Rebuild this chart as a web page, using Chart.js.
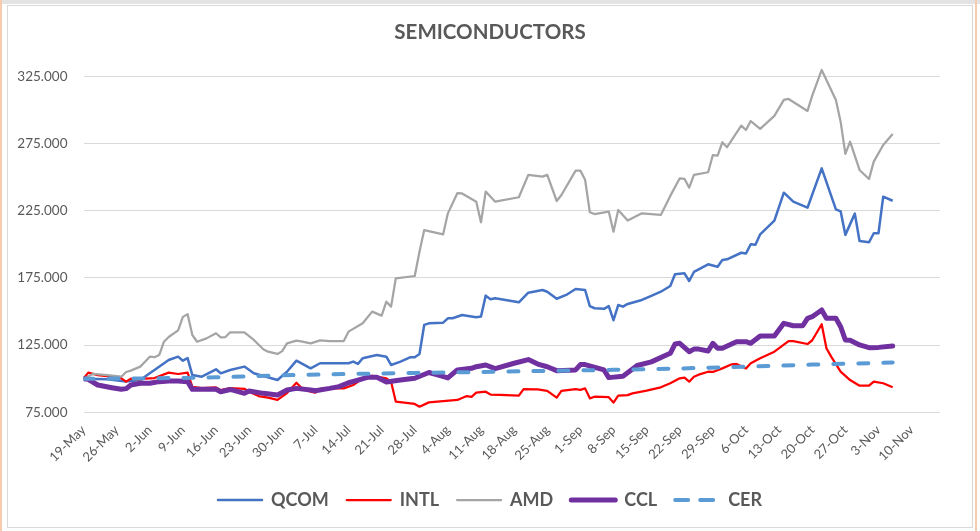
<!DOCTYPE html>
<html>
<head>
<meta charset="utf-8">
<title>Semiconductors</title>
<script src="https://cdn.jsdelivr.net/npm/chart.js@4.4.0/dist/chart.umd.min.js"></script>
<style>
  html, body { margin: 0; padding: 0; background: #fff; }
  #wrap { position: relative; width: 980px; height: 531px; overflow: hidden; }
  #frame { position: absolute; left: 7px; top: 5px; width: 964px; height: 521px; border: 1px solid #d9d9d9; }
  .edge { position: absolute; top: 0; width: 2px; height: 531px; background: #f8cbad; }
  #topbar { position: absolute; left: 0; top: 0; width: 980px; height: 4px; background: #e3e3e3; }
  #chart { position: absolute; left: 0; top: 0; }
</style>
</head>
<body>
<div id="wrap">
  <div id="topbar"></div>
  <div class="edge" style="left:0"></div>
  <div class="edge" style="left:975px"></div>
  <div id="frame"></div>
  <canvas id="chart" width="980" height="531"></canvas>
</div>
<script>
// Values are indexed to 100 on 19-May (2020)
const tickLabels = ['19-May', '26-May', '2-Jun', '9-Jun', '16-Jun', '23-Jun', '30-Jun', '7-Jul', '14-Jul',
    '21-Jul', '28-Jul', '4-Aug', '11-Aug', '18-Aug', '25-Aug', '1-Sep', '8-Sep', '15-Sep', '22-Sep',
    '29-Sep', '6-Oct', '13-Oct', '20-Oct', '27-Oct', '3-Nov', '10-Nov'];
const yTicks = [75, 125, 175, 225, 275, 325];

const qcomDates = ['19-May', '24-May', '28-May', '31-May', '2-Jun', '3-Jun', '6-Jun', '8-Jun', '9-Jun', '10-Jun',
    '11-Jun', '13-Jun', '16-Jun', '17-Jun', '19-Jun', '22-Jun', '24-Jun', '26-Jun', '29-Jun', '1-Jul', '3-Jul',
    '6-Jul', '8-Jul', '10-Jul', '14-Jul', '15-Jul', '16-Jul', '17-Jul', '20-Jul', '22-Jul', '23-Jul', '25-Jul',
    '27-Jul', '28-Jul', '29-Jul', '30-Jul', '31-Jul', '3-Aug', '4-Aug', '5-Aug', '7-Aug', '10-Aug', '11-Aug',
    '12-Aug', '13-Aug', '14-Aug', '19-Aug', '21-Aug', '24-Aug', '25-Aug', '27-Aug', '29-Aug', '31-Aug', '2-Sep',
    '3-Sep', '4-Sep', '6-Sep', '7-Sep', '8-Sep', '9-Sep', '10-Sep', '11-Sep', '14-Sep', '16-Sep', '18-Sep',
    '20-Sep', '21-Sep', '23-Sep', '24-Sep', '25-Sep', '28-Sep', '30-Sep', '1-Oct', '2-Oct', '5-Oct', '6-Oct',
    '7-Oct', '8-Oct', '9-Oct', '12-Oct', '14-Oct', '16-Oct', '19-Oct', '22-Oct', '25-Oct', '26-Oct', '27-Oct',
    '29-Oct', '30-Oct', '1-Nov', '2-Nov', '3-Nov', '4-Nov', '6-Nov'];
const qcomValues = [100, 99.5, 98, 99, 104, 106.5, 113.9, 116.4, 113.4, 115.3,
    102.7, 101.5, 107, 104, 106.5, 109, 104, 102, 99, 105.2, 113.4,
    107.7, 111.5, 111.5, 111.5, 112.7, 111, 115.2, 117.6, 116.4, 110.2, 112.7,
    115.9, 116, 118.4, 140, 141.2, 141.7, 144.9, 145, 147.4, 145.7, 146.2,
    161.8, 159.1, 159.8, 156.8, 164, 166, 164.7, 159.5, 162.3, 166.7, 166,
    154, 152.4, 152, 154, 143.5, 154.8, 153.6, 155.6, 158.6, 161.6, 164.7,
    169, 177.7, 178.4, 172.7, 179.4, 185.1, 183.3, 188.3, 188.8, 193.7, 193.1,
    200, 199.6, 207.4, 217.6, 238.4, 231.7, 227.2, 256.5, 226, 224.5, 207,
    222.8, 202.5, 201.5, 208.2, 208.2, 235.4, 232.4];

const intlDates = ['19-May', '20-May', '22-May', '25-May', '27-May', '28-May', '29-May', '31-May', '1-Jun', '3-Jun',
    '6-Jun', '8-Jun', '10-Jun', '11-Jun', '13-Jun', '16-Jun', '17-Jun', '19-Jun', '22-Jun', '23-Jun', '25-Jun',
    '27-Jun', '29-Jun', '1-Jul', '3-Jul', '4-Jul', '6-Jul', '7-Jul', '8-Jul', '10-Jul', '13-Jul', '15-Jul',
    '17-Jul', '19-Jul', '22-Jul', '23-Jul', '24-Jul', '28-Jul', '29-Jul', '31-Jul', '6-Aug', '8-Aug', '9-Aug',
    '10-Aug', '12-Aug', '13-Aug', '15-Aug', '19-Aug', '20-Aug', '23-Aug', '25-Aug', '27-Aug', '28-Aug', '31-Aug',
    '1-Sep', '2-Sep', '3-Sep', '4-Sep', '7-Sep', '8-Sep', '9-Sep', '11-Sep', '12-Sep', '15-Sep', '18-Sep',
    '20-Sep', '22-Sep', '23-Sep', '24-Sep', '25-Sep', '26-Sep', '28-Sep', '29-Sep', '1-Oct', '3-Oct', '4-Oct',
    '6-Oct', '7-Oct', '9-Oct', '12-Oct', '15-Oct', '16-Oct', '19-Oct', '20-Oct', '22-Oct', '23-Oct', '24-Oct',
    '26-Oct', '28-Oct', '30-Oct', '1-Nov', '2-Nov', '4-Nov', '6-Nov'];
const intlValues = [100, 104.5, 102.7, 101.5, 100.3, 97.8, 100, 99.3, 100, 100.5,
    104.5, 103.5, 104.5, 94, 93, 93.5, 91.5, 93, 92.5, 90.3, 87.1,
    85.9, 84.2, 89.3, 97, 93.5, 90.3, 89.6, 92.5, 93, 92.8, 95.3,
    100.3, 102.2, 100.3, 97.8, 82.9, 81.2, 79.2, 82.4, 84.2, 87.1, 86.5,
    89.6, 90.3, 88.2, 87.9, 87.4, 92.3, 92, 91, 85.9, 91, 92.3,
    91.7, 92.8, 85.4, 86.6, 86.2, 82.2, 87.4, 87.8, 89.1, 91.1, 93.6,
    96.6, 100.3, 100.8, 97.8, 101.5, 103, 105.2, 105, 107.7, 110.7, 111,
    107.5, 111.5, 115.2, 120.1, 128, 128, 125.8, 128.6, 140.5, 122.6, 116.4,
    105.2, 99, 94.8, 94.8, 97.8, 96.6, 93.6];

const amdDates = ['19-May', '21-May', '24-May', '27-May', '28-May', '29-May', '31-May', '1-Jun', '2-Jun', '3-Jun',
    '4-Jun', '5-Jun', '6-Jun', '8-Jun', '9-Jun', '10-Jun', '11-Jun', '12-Jun', '14-Jun', '16-Jun', '17-Jun',
    '18-Jun', '19-Jun', '22-Jun', '24-Jun', '26-Jun', '27-Jun', '29-Jun', '30-Jun', '1-Jul', '3-Jul', '4-Jul',
    '6-Jul', '8-Jul', '10-Jul', '13-Jul', '14-Jul', '17-Jul', '19-Jul', '21-Jul', '22-Jul', '23-Jul', '24-Jul',
    '28-Jul', '29-Jul', '30-Jul', '3-Aug', '4-Aug', '6-Aug', '7-Aug', '10-Aug', '11-Aug', '12-Aug', '14-Aug',
    '19-Aug', '21-Aug', '24-Aug', '25-Aug', '27-Aug', '28-Aug', '31-Aug', '1-Sep', '2-Sep', '3-Sep', '4-Sep',
    '7-Sep', '8-Sep', '9-Sep', '11-Sep', '14-Sep', '18-Sep', '20-Sep', '22-Sep', '23-Sep', '24-Sep', '25-Sep',
    '28-Sep', '29-Sep', '30-Sep', '1-Oct', '2-Oct', '5-Oct', '6-Oct', '7-Oct', '9-Oct', '12-Oct', '14-Oct',
    '15-Oct', '19-Oct', '20-Oct', '22-Oct', '25-Oct', '26-Oct', '27-Oct', '28-Oct', '30-Oct', '1-Nov', '2-Nov',
    '4-Nov', '6-Nov'];
const amdValues = [100, 103.5, 102.7, 101.5, 105, 106, 109, 112.6, 116.4, 116,
    117.6, 127.5, 131, 136, 146, 148, 132.5, 127.5, 130, 133.8, 130.8,
    131, 134.5, 134.5, 128.8, 121.9, 120.1, 118.4, 120.5, 126.3, 128.3, 127.7,
    126.3, 128.5, 128, 128, 135, 141.2, 149.9, 146.9, 157.3, 153.6, 174.7,
    176.4, 194.5, 210.6, 207.4, 223, 238, 237.8, 231.7, 216.4, 239.2, 231.7,
    235, 251.6, 250.3, 251.6, 232.2, 236.7, 254.8, 254.8, 248, 223.8, 222.5,
    224.3, 209.4, 225.5, 217.6, 223, 221.8, 236, 249.1, 248.7, 242.1, 251.6,
    253.6, 266.4, 266, 275.9, 272.2, 288.3, 285, 291.7, 285.8, 295.5, 307.4,
    308.1, 299.2, 310.6, 329.7, 307.4, 291.2, 267.2, 276.3, 255.3, 248.6, 261.5,
    273.9, 282.1];

const cclDates = ['19-May', '20-May', '22-May', '25-May', '27-May', '28-May', '29-May', '31-May', '2-Jun', '4-Jun',
    '6-Jun', '8-Jun', '10-Jun', '11-Jun', '16-Jun', '17-Jun', '19-Jun', '22-Jun', '23-Jun', '26-Jun', '29-Jun',
    '1-Jul', '3-Jul', '6-Jul', '7-Jul', '10-Jul', '12-Jul', '14-Jul', '16-Jul', '18-Jul', '20-Jul', '22-Jul',
    '25-Jul', '28-Jul', '31-Jul', '2-Aug', '4-Aug', '6-Aug', '9-Aug', '10-Aug', '12-Aug', '14-Aug', '18-Aug',
    '21-Aug', '23-Aug', '25-Aug', '27-Aug', '31-Aug', '1-Sep', '2-Sep', '6-Sep', '7-Sep', '10-Sep', '13-Sep',
    '16-Sep', '20-Sep', '21-Sep', '22-Sep', '24-Sep', '25-Sep', '26-Sep', '28-Sep', '29-Sep', '30-Sep', '1-Oct',
    '4-Oct', '6-Oct', '7-Oct', '9-Oct', '12-Oct', '14-Oct', '16-Oct', '18-Oct', '19-Oct', '20-Oct', '22-Oct',
    '23-Oct', '25-Oct', '26-Oct', '27-Oct', '28-Oct', '30-Oct', '1-Nov', '3-Nov', '6-Nov'];
const cclValues = [100, 99.5, 95.3, 93.3, 92.1, 92.6, 95.3, 96.6, 96.6, 97.8,
    98.3, 98.3, 97.8, 92.1, 92.1, 90.3, 92, 89.1, 90.8, 89.1, 87.9,
    91.6, 92.8, 91.6, 91.1, 92.8, 94.1, 97, 99, 101, 101, 97.6,
    99, 100.3, 104.6, 102.7, 100.6, 106.5, 107.7, 108.9, 110.2, 107.5, 111.5,
    114.2, 110.9, 108.9, 106, 106.5, 110.5, 110.5, 106.5, 100.8, 101.9, 109.8,
    112.5, 118.9, 125.8, 126.3, 120.1, 122, 122, 120.6, 126.3, 122.6, 122.6,
    127.5, 127.5, 126.3, 131.8, 131.8, 141.2, 139.4, 139.4, 144.9, 146.1, 151.1,
    144.9, 144.9, 138.7, 128.8, 128.6, 125.1, 123.1, 123.3, 124.3];

const cerDates = ['19-May', '2-Jun', '16-Jun', '30-Jun', '14-Jul', '28-Jul', '11-Aug', '25-Aug', '8-Sep',
    '22-Sep', '6-Oct', '20-Oct', '6-Nov'];
const cerValues = [100, 100.2, 101, 102.5, 103.5, 104.3, 105, 105.8, 106.6, 107.6, 109, 110.5, 112];

const MONTHS = ['Jan', 'Feb', 'Mar', 'Apr', 'May', 'Jun', 'Jul', 'Aug', 'Sep', 'Oct', 'Nov', 'Dec'];
const START = Date.UTC(2020, 4, 19);

// '9-Jun' -> days since 19-May
function dayOf(label) {
    const [d, m] = label.split('-');
    return Math.round((Date.UTC(2020, MONTHS.indexOf(m), +d) - START) / 864e5);
}

function points(dates, values) {
    return dates.map((d, i) => ({ x: dayOf(d), y: values[i] }));
}

const tickDays = tickLabels.map(dayOf);
const FONT = "Lato, 'Liberation Sans', sans-serif";
const GREY = '#595959';

const ctx = document.getElementById('chart').getContext('2d');
new Chart(ctx, {
    type: 'line',
    data: {
        datasets: [
            { label: 'QCOM', data: points(qcomDates, qcomValues), borderColor: '#4472C4', borderWidth: 2.5, order: 4 },
            { label: 'INTL', data: points(intlDates, intlValues), borderColor: '#FF0000', borderWidth: 2.25, order: 3 },
            { label: 'AMD', data: points(amdDates, amdValues), borderColor: '#A5A5A5', borderWidth: 2.25, order: 2 },
            { label: 'CCL', data: points(cclDates, cclValues), borderColor: '#7030A0', borderWidth: 5,
              borderCapStyle: 'round', order: 1 },
            { label: 'CER', data: points(cerDates, cerValues), borderColor: '#5B9BD5', borderWidth: 4,
              borderDash: [10, 15], borderCapStyle: 'round', order: 0 }
        ]
    },
    options: {
        responsive: false,
        animation: false,
        devicePixelRatio: 1,
        layout: { padding: { left: 0, right: 0, top: 0, bottom: 12 } },
        elements: {
            point: { radius: 0 },
            line: { tension: 0, borderJoinStyle: 'round', backgroundColor: 'transparent' }
        },
        scales: {
            x: {
                type: 'linear',
                min: 0,
                max: 181,
                afterBuildTicks: (s) => { s.ticks = tickDays.map(v => ({ value: v })); },
                afterFit: (s) => { s.height = 60.7; },
                grid: { display: false },
                border: { display: false },
                ticks: {
                    autoSkip: false,
                    minRotation: 45,
                    maxRotation: 45,
                    padding: 2,
                    color: GREY,
                    font: { family: FONT, size: 13 },
                    callback: (v) => tickLabels[tickDays.indexOf(v)]
                }
            },
            y: {
                min: 75,
                max: 342.6,
                afterBuildTicks: (s) => { s.ticks = yTicks.map(v => ({ value: v })); },
                afterFit: (s) => { s.width = 83.5; },
                grid: { color: '#d9d9d9', drawTicks: false },
                border: { display: false },
                ticks: {
                    padding: 16,
                    color: GREY,
                    font: { family: FONT, size: 13.5 },
                    callback: (v) => v.toFixed(3)
                }
            },
            // empty right-hand box: leaves the blank strip right of the plot
            // so the title and legend stay centred on the whole frame
            yRight: {
                position: 'right',
                afterFit: (s) => { s.width = 40; },
                grid: { display: false },
                border: { display: false },
                ticks: { display: false }
            }
        },
        plugins: {
            title: {
                display: true,
                text: 'SEMICONDUCTORS',
                color: GREY,
                font: { family: FONT, size: 20.5, weight: 'bold' },
                padding: { top: 20, bottom: 8 }
            },
            legend: {
                position: 'bottom',
                labels: {
                    boxWidth: 44,
                    boxHeight: 0,
                    padding: 18,
                    color: GREY,
                    font: { family: FONT, size: 18, weight: 'bold' },
                    sort: (a, b) => a.datasetIndex - b.datasetIndex
                }
            },
            tooltip: { enabled: false }
        }
    }
});
</script>
</body>
</html>
